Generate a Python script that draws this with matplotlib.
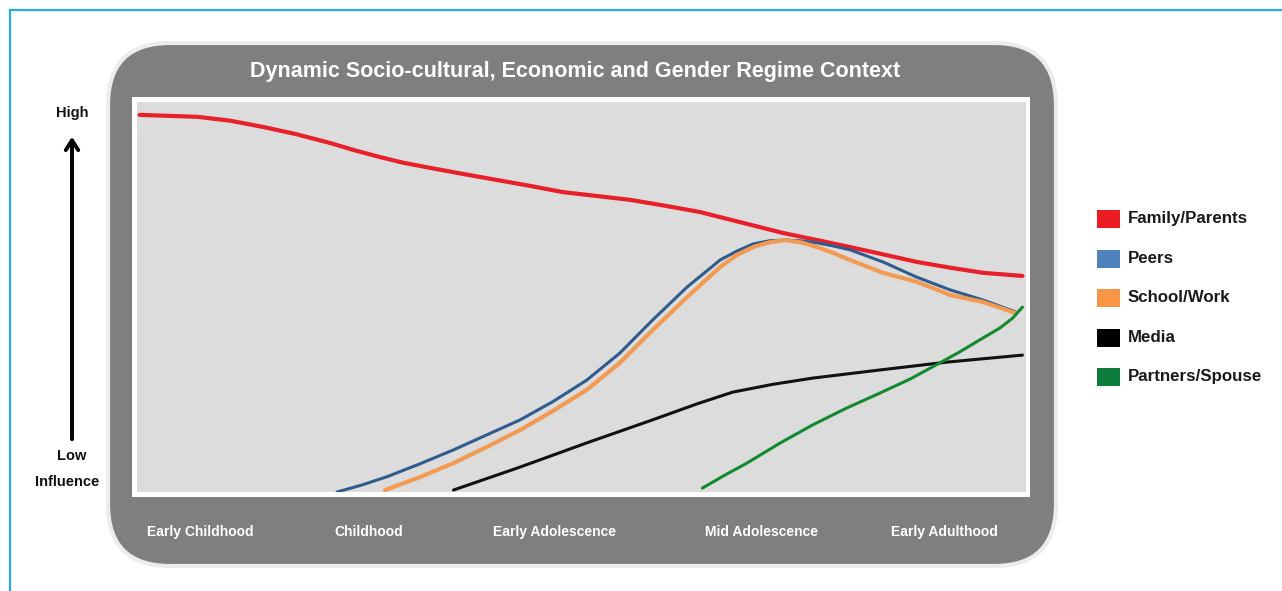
import numpy as np
import matplotlib
matplotlib.use('Agg')
from matplotlib import pyplot as plt
from matplotlib.patches import FancyBboxPatch, Rectangle

plt.rcParams['font.family'] = ['Liberation Sans Narrow', 'Liberation Sans', 'DejaVu Sans']
plt.rcParams['font.weight'] = 'bold'

# life stage position (0-100 across the panel) vs influence (0-100)
stages = ['Early Childhood', 'Childhood', 'Early Adolescence', 'Mid Adolescence', 'Early Adulthood']
stage_pos = [7.1, 26.1, 47.0, 70.2, 90.8]

family_x = [0.3, 6.8, 10.5, 14.2, 18.0, 21.7, 24.5, 27.3, 30.0, 33.0, 36.8, 40.5, 44.2, 47.9,
            51.7, 55.5, 59.4, 63.3, 68.0, 72.7, 76.5, 80.2, 84.0, 87.7, 91.5, 95.2, 99.6]
family_y = [96.7, 96.2, 95.2, 93.6, 91.7, 89.5, 87.6, 85.9, 84.4, 83.1, 81.5, 80.0, 78.5, 76.9,
            75.9, 74.9, 73.4, 71.8, 69.1, 66.4, 64.6, 62.8, 60.9, 59.0, 57.5, 56.2, 55.4]

peers_x = [22.5, 25.3, 28.1, 31.8, 35.6, 39.3, 43.1, 46.8, 50.6, 54.3, 58.0, 61.9, 65.6, 67.5, 69.3,
           71.1, 72.9, 74.7, 76.5, 78.3, 80.2, 83.9, 87.7, 91.5, 95.2, 98.8]
peers_y = [0.0, 1.8, 3.9, 7.2, 10.8, 14.6, 18.5, 23.2, 28.7, 35.6, 44.1, 52.6, 59.5, 61.8, 63.6,
           64.4, 64.6, 64.4, 63.9, 63.1, 62.1, 59.0, 55.1, 51.8, 49.2, 46.2]

school_x = [27.9, 31.7, 35.6, 39.3, 43.1, 46.8, 50.6, 54.3, 58.0, 61.9, 65.6, 67.5, 69.3, 71.1,
            72.9, 74.7, 76.5, 78.3, 80.2, 83.9, 87.7, 91.5, 95.2, 98.8]
school_y = [0.5, 3.7, 7.4, 11.5, 15.9, 20.8, 26.2, 33.1, 41.5, 50.0, 57.7, 60.8, 62.8, 64.0,
            64.6, 64.0, 62.8, 61.3, 59.5, 56.2, 53.9, 50.5, 48.7, 45.9]

media_x = [35.6, 43.1, 50.6, 58.0, 63.0, 67.0, 71.5, 76.0, 83.6, 91.1, 99.6]
media_y = [0.5, 6.4, 12.6, 18.5, 22.6, 25.6, 27.6, 29.2, 31.3, 33.3, 35.1]

partner_x = [63.6, 66.1, 68.6, 72.3, 76.0, 79.8, 83.6, 87.0, 90.3, 92.6, 94.8, 97.1, 98.5, 99.6]
partner_y = [1.0, 4.3, 7.4, 12.5, 17.2, 21.5, 25.4, 29.0, 33.1, 36.0, 39.0, 42.1, 44.6, 47.4]

names = ['Family/Parents', 'Peers', 'School/Work', 'Media', 'Partners/Spouse']
line_colors = ['#e8202a', '#2f5b8e', '#f29a52', '#111111', '#13892f']
legend_colors = ['#ec1c24', '#4f81bd', '#f79646', '#000000', '#0e7c3a']
widths = [3.0, 2.2, 3.0, 2.2, 2.2]

W, H = 1282, 591
fig = plt.figure(figsize=(W / 100, H / 100), dpi=100)
fig.patch.set_facecolor('white')

# background layer in pixel coords
bg = fig.add_axes([0, 0, 1, 1])
bg.set_xlim(0, W)
bg.set_ylim(H, 0)
bg.axis('off')

bg.plot([10, 10], [10, H], color='#29abe2', lw=1.6)
bg.plot([10, W], [10, 10], color='#29abe2', lw=1.6)

box = FancyBboxPatch((108, 43), 948, 523, boxstyle='round,pad=0,rounding_size=62',
                     facecolor='#7f7f7f', edgecolor='#ececec', lw=3)
bg.add_patch(box)
bg.add_patch(Rectangle((132, 97), 898, 400, facecolor='white', edgecolor='none'))

bg.text(575, 71, 'Dynamic Socio-cultural, Economic and Gender Regime Context',
        color='white', fontsize=15.5, fontweight='bold', ha='center', va='center')

# influence arrow
bg.annotate('', xy=(72, 134), xytext=(72, 442),
            arrowprops=dict(arrowstyle='->,head_length=0.7,head_width=0.45', lw=2.8, color='black'))
bg.text(72, 113, 'High', fontsize=10.5, ha='center', va='center', color='#111111')
bg.text(72, 456, 'Low', fontsize=10.5, ha='center', va='center', color='#111111')
bg.text(67, 482, 'Influence', fontsize=10.5, ha='center', va='center', color='#111111')

# legend
for i, (nm, c) in enumerate(zip(names, legend_colors)):
    yy = 219 + i * 39.5
    bg.add_patch(Rectangle((1097, yy - 9), 23, 18, facecolor=c, edgecolor='none'))
    bg.text(1128, yy, nm, fontsize=12.2, ha='left', va='center', color='#1a1a1a')

# chart panel
ax = fig.add_axes([137 / W, (H - 492) / H, 889 / W, 390 / H])
ax.set_facecolor('#dcdcdc')
ax.set_xlim(0, 100)
ax.set_ylim(0, 100)
for s in ax.spines.values():
    s.set_visible(False)

series = [(family_x, family_y), (peers_x, peers_y), (school_x, school_y),
          (media_x, media_y), (partner_x, partner_y)]
for (xs, ys), c, lw in zip(series, line_colors, widths):
    ax.plot(xs, ys, color=c, lw=lw, solid_capstyle='round', solid_joinstyle='round')

ax.set_xticks(stage_pos)
ax.set_xticklabels(stages, color='white', fontsize=10, fontweight='bold')
ax.tick_params(axis='x', length=0, pad=24)
ax.set_yticks([])

fig.savefig('out.png', dpi=100, facecolor='white')
